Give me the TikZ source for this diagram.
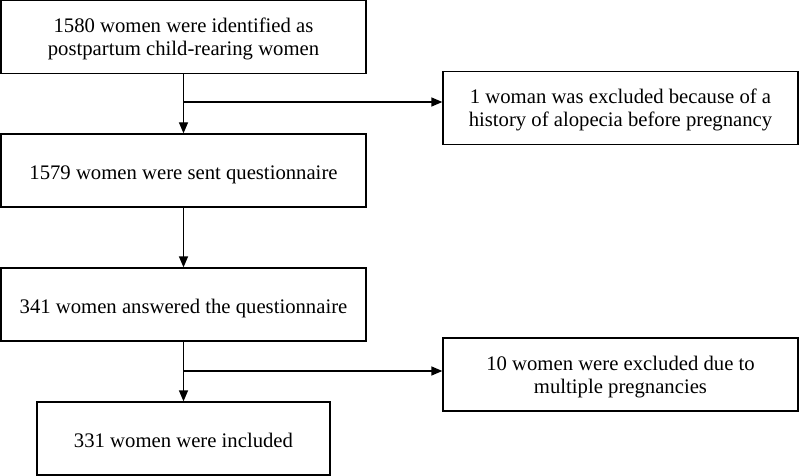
\documentclass[tikz,border=0pt]{standalone}
\usepackage{fontspec}
\setmainfont{Liberation Serif}
\usepackage{tikz}
\usetikzlibrary{arrows.meta}
\tikzset{
  flowbox/.style={draw, line width=1.3pt, align=center, inner sep=0pt,
    minimum width=365pt, minimum height=73pt, text height=17.6pt, text depth=0pt,
    font=\fontsize{20.7}{23.3}\selectfont},
  twoline/.style={text height=37.6pt},
  exclbox/.style={flowbox, twoline, minimum width=355pt},
  flowarrow/.style={draw, line width=1.3pt, -{Triangle[length=11pt,width=9pt]}}
}

\begin{document}
\begin{tikzpicture}[x=1pt,y=-1pt]
        \useasboundingbox (0,0) rectangle (800,476);
        \node[flowbox, twoline] (ident) at (183.5,37) {1580 women were identified as\\postpartum child-rearing women};
        \node[flowbox] (sent) at (183.5,170.5) {1579 women were sent questionnaire};
        \node[flowbox] (answ) at (183.5,304.5) {341 women answered the questionnaire};
        \node[flowbox, minimum width=293pt] (incl) at (183.5,438.5) {331 women were included};
        \node[exclbox] (alop) at (620.5,108) {1 woman was excluded because of a\\history of alopecia before pregnancy};
        \node[exclbox] (mult) at (620.5,374.5) {10 women were excluded due to\\multiple pregnancies};
        \coordinate (split1) at (183.5,102);
        \coordinate (split2) at (183.5,371);
        \path[flowarrow] (ident) -- (sent);
        \path[flowarrow] (sent) -- (answ);
        \path[flowarrow] (answ) -- (incl);
        \path[flowarrow] (split1) -- (alop.west |- split1);
        \path[flowarrow] (split2) -- (mult.west |- split2);
    \end{tikzpicture}
\end{document}
